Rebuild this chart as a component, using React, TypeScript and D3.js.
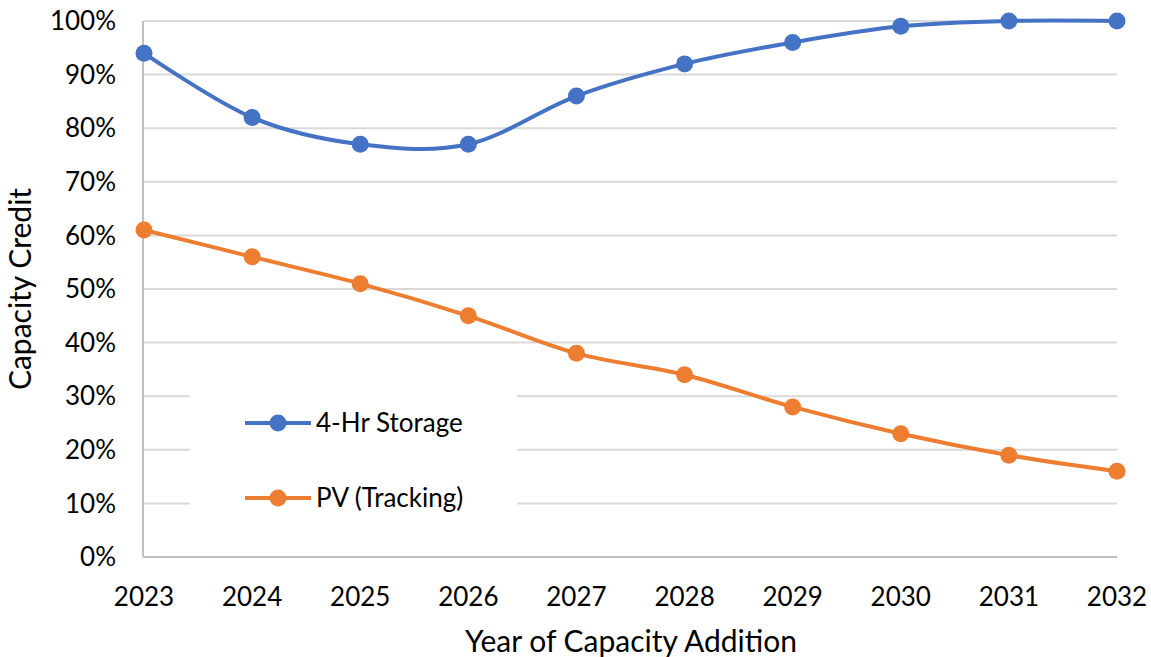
import * as d3 from "d3";

const years = [2023, 2024, 2025, 2026, 2027, 2028, 2029, 2030, 2031, 2032];
const storage = [94, 82, 77, 77, 86, 92, 96, 99, 100, 100];
const pvTracking = [61, 56, 51, 45, 38, 34, 28, 23, 19, 16];
const yTicks = [0, 10, 20, 30, 40, 50, 60, 70, 80, 90, 100];

const series = [
  { name: "4-Hr Storage", values: storage, color: "#4472C4" },
  { name: "PV (Tracking)", values: pvTracking, color: "#ED7D31" },
];

const W = 1151;
const H = 657;
const font = "Lato, 'Noto Sans', sans-serif";

export default function App() {
  const x = d3.scaleLinear().domain([2023, 2032]).range([144, 1117]);
  const y = d3.scaleLinear().domain([0, 100]).range([557, 21]);

  const line = d3
    .line<number>()
    .x((_, i) => x(years[i]))
    .y((d) => y(d))
    .curve(d3.curveCardinal.tension(0));

  return (
    <svg
      width={W}
      height={H}
      style={{ position: "absolute", left: 0, top: 0, background: "#fff" }}
      fontFamily={font}
    >
      {/* gridlines */}
      {yTicks.slice(1).map((t) => (
        <line
          key={t}
          x1={x(2023)}
          x2={x(2032)}
          y1={y(t)}
          y2={y(t)}
          stroke="#d9d9d9"
          strokeWidth={2}
        />
      ))}
      {/* legend box hides grid */}
      <rect x={190} y={380} width={327} height={132} fill="#fff" />
      <line x1={143} x2={143} y1={y(100)} y2={y(0)} stroke="#bfbfbf" strokeWidth={2} />
      <line x1={143} x2={x(2032)} y1={y(0)} y2={y(0)} stroke="#bfbfbf" strokeWidth={2} />

      {yTicks.map((t) => (
        <text
          key={t}
          x={116}
          y={y(t)}
          dy="0.35em"
          textAnchor="end"
          fontSize={26}
          fill="#000"
        >
          {t}%
        </text>
      ))}
      {years.map((yr) => (
        <text key={yr} x={x(yr)} y={606} textAnchor="middle" fontSize={26} fill="#000">
          {yr}
        </text>
      ))}
      <text x={631} y={652} textAnchor="middle" fontSize={30} fill="#000">
        Year of Capacity Addition
      </text>
      <text
        transform={`translate(31,${y(50)}) rotate(-90)`}
        textAnchor="middle"
        fontSize={30}
        fill="#000"
      >
        Capacity Credit
      </text>

      {series.map((s) => (
        <g key={s.name}>
          <path d={line(s.values) ?? ""} fill="none" stroke={s.color} strokeWidth={4} />
          {s.values.map((v, i) => (
            <circle key={i} cx={x(years[i])} cy={y(v)} r={8.5} fill={s.color} />
          ))}
        </g>
      ))}

      {series.map((s, i) => {
        const ly = 423 + i * 75;
        return (
          <g key={s.name}>
            <line x1={245} x2={311} y1={ly} y2={ly} stroke={s.color} strokeWidth={4} />
            <circle cx={278} cy={ly} r={8.5} fill={s.color} />
            <text x={316} y={ly} dy="0.35em" fontSize={26} fill="#000">
              {s.name}
            </text>
          </g>
        );
      })}
    </svg>
  );
}
